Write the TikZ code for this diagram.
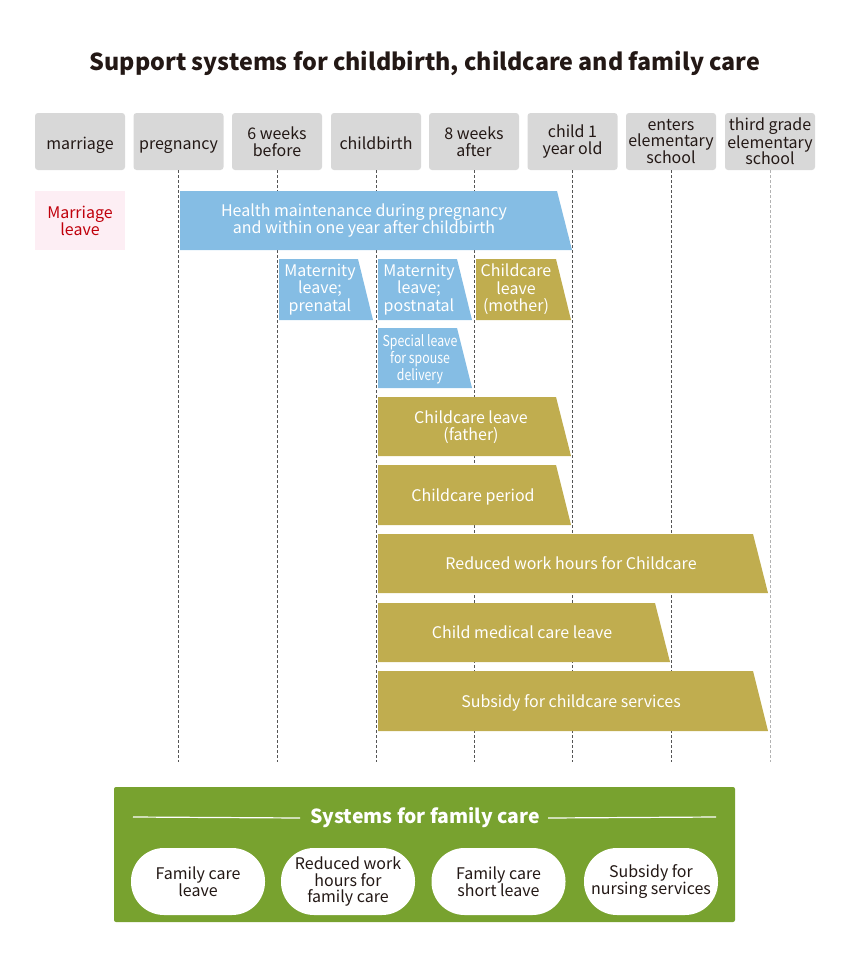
\documentclass[tikz,border=0pt]{standalone}
\usepackage{fontspec}
\setmainfont{Noto Sans CJK JP}
\newfontfamily\condfont[FakeStretch=0.82]{Noto Sans CJK JP}
\usetikzlibrary{calc}
\definecolor{hdr}{HTML}{D8D8D8}
\definecolor{ink}{HTML}{231815}
\definecolor{bblue}{HTML}{85BDE4}
\definecolor{olive}{HTML}{C0AD4F}
\definecolor{fgreen}{HTML}{78A22F}
\definecolor{pinkbg}{HTML}{FDEEF4}
\definecolor{redtxt}{HTML}{C0000B}
\definecolor{dashc}{HTML}{555555}
\begin{document}
\begin{tikzpicture}[x=1pt,y=-1pt,
  hdrbox/.style={fill=hdr,rounded corners=3pt,minimum width=90pt,minimum height=57pt,inner sep=0pt,
     text=ink,align=center,font=\fontsize{16}{16.5}\selectfont},
  oneline/.style={text height=15pt,text depth=0pt},
  bartext/.style={text=white,align=center,inner sep=0pt,font=\fontsize{16}{17.5}\selectfont},
  barone/.style={text height=12pt,text depth=0pt},
  guide/.style={dashc,dash pattern=on 3pt off 2pt,line width=0.8pt},
  pill/.style={fill=white,rounded corners=33pt,minimum width=134pt,minimum height=67pt,inner sep=0pt,
     text=ink,align=center,font=\fontsize{16}{16.5}\selectfont}]
\useasboundingbox (0,0) rectangle (850,967);
\newcommand{\slantbar}[6]{%
  \fill[#6] (#2,#3) -- (#4,#3) -- ({#4+15},#5) -- (#2,#5) -- cycle;}

\node[font=\bfseries\fontsize{23.3}{26}\selectfont,text=ink] (title) at (425,63.5) {Support systems for childbirth, childcare and family care};

% header boxes
\node[hdrbox,oneline] (h1) at (80,141.5) {marriage};
\node[hdrbox,oneline] (h2) at (178.5,141.5) {pregnancy};
\node[hdrbox] (h3) at (277,141.5) {6 weeks\\before};
\node[hdrbox,oneline] (h4) at (376,141.5) {childbirth};
\node[hdrbox] (h5) at (474,141.5) {8 weeks\\after};
\node[hdrbox] (h6) at (572.5,141.5) {\raisebox{-2pt}{child 1}\\\raisebox{-2pt}{year old}};
\node[hdrbox] (h7) at (671,141.5) {enters\\elementary\\school};
\node[hdrbox] (h8) at (770,141.5) {third grade\\elementary\\school};

% guide lines
\coordinate (e2) at (178.5,762); \coordinate (e3) at (277,762); \coordinate (e4) at (376,762);
\coordinate (e5) at (474,762); \coordinate (e6) at (572.5,762); \coordinate (e7) at (671,762);
\coordinate (e8) at (770,762);
\draw[guide] (h2.south) -- (e2);
\draw[guide] (h3.south) -- (e3);
\draw[guide] (h4.south) -- (e4);
\draw[guide] (h5.south) -- (e5);
\draw[guide] (h6.south) -- (e6);
\draw[guide] (h7.south) -- (e7);
\draw[guide,color=gray!60] (h8.south) -- (e8);

% marriage leave
\node[fill=pinkbg,minimum width=90pt,minimum height=59pt,inner sep=0pt,text=redtxt,align=center,
  font=\fontsize{16}{17}\selectfont] (ml) at (80,220.5) {Marriage\\leave};

% bars
\slantbar{hm}{180}{191}{557}{250}{bblue}
\node[bartext] (thm) at (364,220.5) {Health maintenance during pregnancy\\and within one year after childbirth};

\slantbar{mp}{279}{259}{358}{320}{bblue}
\node[bartext] (tmp) at (320,289.5) {Maternity\\leave;\\prenatal};

\slantbar{mq}{378}{259}{457}{320}{bblue}
\node[bartext] (tmq) at (419,289.5) {Maternity\\leave;\\postnatal};

\slantbar{cm}{476}{259}{556}{320}{olive}
\node[bartext] (tcm) at (516,289.5) {Childcare\\leave\\(mother)};

\slantbar{sl}{378}{328}{457}{388}{bblue}
\node[bartext,font=\condfont\fontsize{15}{17}\selectfont] (tsl) at (420,359.5) {Special leave\\for spouse\\delivery};

\slantbar{cf}{378}{397}{556}{456}{olive}
\node[bartext] (tcf) at (471,427) {Childcare leave\\(father)};

\slantbar{cp}{378}{465}{556}{525}{olive}
\node[bartext,barone] (tcp) at (473,495) {Childcare period};

\slantbar{rw}{378}{534}{753}{593}{olive}
\node[bartext,barone] (trw) at (571,563.5) {Reduced work hours for Childcare};

\slantbar{cml}{378}{603}{655}{662}{olive}
\node[bartext,barone] (tcml) at (522,632.5) {Child medical care leave};

\slantbar{sc}{378}{671}{753}{731}{olive}
\node[bartext,barone] (tsc) at (571,701) {Subsidy for childcare services};

% family care box
\node[fill=fgreen,rounded corners=2pt,minimum width=621pt,minimum height=135pt,inner sep=0pt] (fc) at (424.5,854.5) {};
\node[text=white,font=\bfseries\fontsize{19.4}{22}\selectfont] (fct) at (425,818) {Systems for family care};
\coordinate (l1) at (133,817); \coordinate (r2) at (716,817);
\draw[white,line width=1.2pt] (l1) -- (fct.west -| 300,0);
\draw[white,line width=1.2pt] (fct.east -| 548,0) -- (r2);

\node[pill] (p1) at (198,881.5) {Family care\\leave};
\node[pill] (p2) at (348,881.5) {Reduced work\\hours for\\family care};
\node[pill] (p3) at (498.5,881.5) {Family care\\short leave};
\node[pill] (p4) at (651,881.5) {Subsidy for\\nursing services};
\end{tikzpicture}
\end{document}
